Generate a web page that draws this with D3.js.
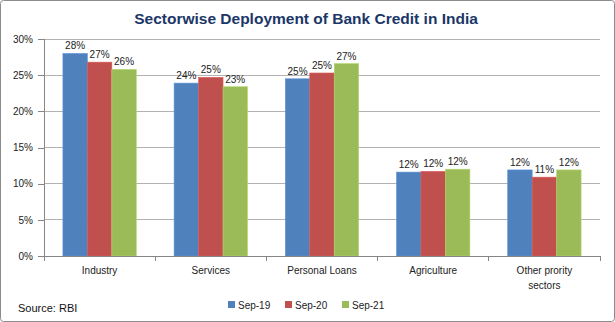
<!DOCTYPE html>
<html><head><meta charset="utf-8">
<script src="https://cdn.jsdelivr.net/npm/d3@7"></script>
<style>
html,body{margin:0;padding:0;background:#fff;}
text{font-family:"Liberation Sans","DejaVu Sans",sans-serif;}
</style></head>
<body>
<svg id="chart" width="615" height="322"></svg>
<script>
const categories = ["Industry", "Services", "Personal Loans", "Agriculture", "Other prority sectors"];
const series = ["Sep-19", "Sep-20", "Sep-21"];
const sep19 = [28.0, 23.9, 24.5, 11.6, 11.9];
const sep20 = [26.8, 24.7, 25.3, 11.7, 10.9];
const sep21 = [25.8, 23.4, 26.6, 12.0, 11.9];
const colors = ["#4F81BD", "#C0504D", "#9BBB59"];
const yTicks = [0, 5, 10, 15, 20, 25, 30];
const title = "Sectorwise Deployment of Bank Credit in India";
const source = "Source: RBI";

const values = [sep19, sep20, sep21];
const svg = d3.select("#chart");
const W = 615, H = 322;

svg.append("rect").attr("x", 0.5).attr("y", 0.5).attr("width", W - 1).attr("height", H - 1)
  .attr("rx", 3).attr("fill", "#fff").attr("stroke", "#8c8c8c");

svg.append("text").attr("x", 306).attr("y", 24).attr("text-anchor", "middle")
  .attr("font-size", 15.5).attr("font-weight", "bold").attr("fill", "#1B3768").text(title);

const pLeft = 44, pRight = 600, pTop = 39, pBottom = 256;
const x0 = d3.scaleBand().domain(categories).range([pLeft, pRight]).paddingInner(0.34).paddingOuter(0.17);
const x1 = d3.scaleBand().domain(series).range([0, x0.bandwidth()]);
const y = d3.scaleLinear().domain([0, 30]).range([pBottom, pTop]);

// gridlines
svg.append("g").selectAll("line").data(yTicks.filter(d => d > 0)).join("line")
  .attr("x1", pLeft).attr("x2", pRight).attr("y1", d => y(d)).attr("y2", d => y(d))
  .attr("stroke", "#b3b3b3").attr("stroke-width", 1).attr("shape-rendering", "crispEdges");

// y axis
const yAxis = d3.axisLeft(y).tickValues(yTicks).tickFormat(d => d + "%").tickSize(6).tickPadding(5);
const gy = svg.append("g").attr("transform", `translate(${pLeft},0)`).call(yAxis);
gy.select(".domain").attr("stroke", "#868686");
gy.selectAll(".tick line").attr("stroke", "#868686");
gy.selectAll("text").attr("font-size", 10).attr("fill", "#222");
gy.attr("shape-rendering", "crispEdges");

// bars
const groups = svg.append("g").selectAll("g").data(categories).join("g")
  .attr("transform", d => `translate(${x0(d)},0)`);
groups.each(function(cat, i) {
  const g = d3.select(this);
  series.forEach((s, j) => {
    const v = values[j][i];
    g.append("rect").attr("x", x1(s)).attr("y", y(v)).attr("width", x1.bandwidth())
      .attr("height", y(0) - y(v)).attr("fill", colors[j])
      .attr("stroke", d3.color(colors[j]).brighter(0.4)).attr("stroke-width", 0.6);
    g.append("text").attr("x", x1(s) + x1.bandwidth() / 2).attr("y", y(v) - 4)
      .attr("text-anchor", "middle").attr("font-size", 10).attr("fill", "#222")
      .text(Math.round(v) + "%");
  });
});

// x axis
const xAxis = d3.axisBottom(x0).tickSize(0).tickFormat("");
const gx = svg.append("g").attr("transform", `translate(0,${pBottom})`).call(xAxis);
gx.select(".domain").attr("stroke", "#868686");
gx.attr("shape-rendering", "crispEdges");
const bounds = [pLeft].concat(categories.map(c => x0(c) + x0.bandwidth() + x0.step() * x0.paddingInner() / 2));
gx.selectAll(".bound").data(bounds).join("line").attr("class", "bound")
  .attr("x1", d => d).attr("x2", d => d).attr("y1", 0).attr("y2", 5).attr("stroke", "#868686");

categories.forEach(c => {
  const cx = x0(c) + x0.bandwidth() / 2;
  const lines = c === "Other prority sectors" ? ["Other prority", "sectors"] : [c];
  lines.forEach((l, k) => {
    svg.append("text").attr("x", cx).attr("y", 274 + k * 15).attr("text-anchor", "middle")
      .attr("font-size", 10).attr("fill", "#222").text(l);
  });
});

// legend
const legendX = [228, 285, 342];
series.forEach((s, j) => {
  svg.append("rect").attr("x", legendX[j]).attr("y", 301).attr("width", 7).attr("height", 7).attr("fill", colors[j]);
  svg.append("text").attr("x", legendX[j] + 10).attr("y", 309).attr("font-size", 10).attr("fill", "#222").text(s);
});

svg.append("text").attr("x", 18).attr("y", 312).attr("font-size", 11).attr("fill", "#111").text(source);
</script>
</body></html>
